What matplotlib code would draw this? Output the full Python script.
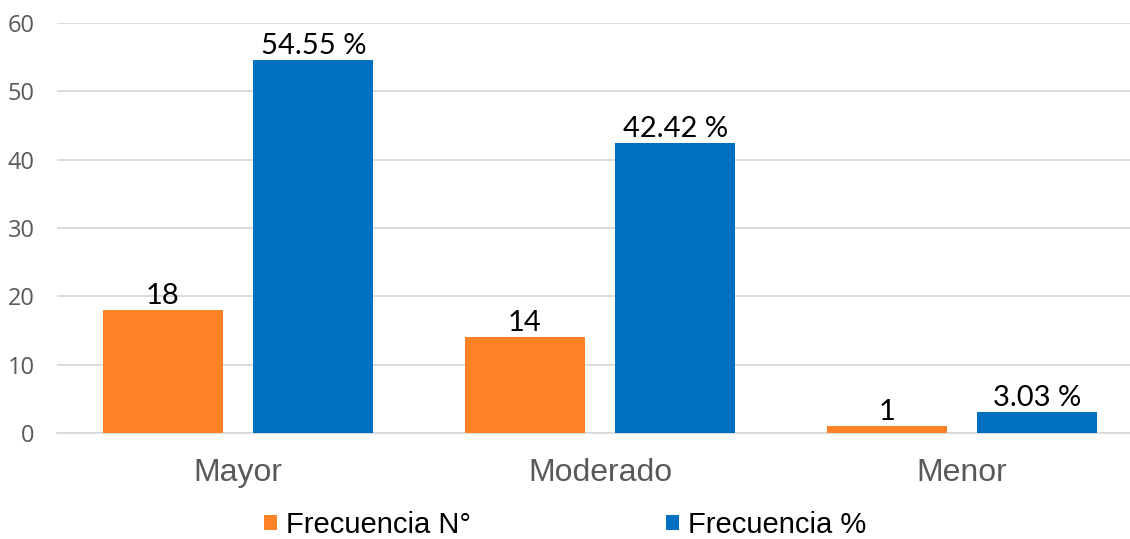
import numpy as np
import matplotlib.pyplot as plt

categories = ['Mayor', 'Moderado', 'Menor']
frecuencia_n = [18, 14, 1]
frecuencia_pct = [54.55, 42.42, 3.03]
pct_labels = ['54.55 %', '42.42 %', '3.03 %']
y_ticks = [0, 10, 20, 30, 40, 50, 60]

orange = '#FF8226'
blue = '#0070C0'
grid_c = '#D9D9D9'
tick_c = '#595959'

fig = plt.figure(figsize=(11.3, 5.39), dpi=100)
ax = fig.add_axes([57 / 1130, 106 / 539, 1086 / 1130, 410 / 539])

x = np.arange(len(categories))
w = 0.332
off = 0.208
b1 = ax.bar(x - off, frecuencia_n, w, color=orange, label='Frecuencia N°', zorder=3)
b2 = ax.bar(x + off, frecuencia_pct, w, color=blue, label='Frecuencia %', zorder=3)

for rect, v in zip(b1, frecuencia_n):
    ax.annotate(str(v), (rect.get_x() + rect.get_width() / 2, rect.get_height()),
                xytext=(0, 1), textcoords='offset points', ha='center', va='bottom',
                fontsize=21, family='Lato', color='black')
for rect, s in zip(b2, pct_labels):
    ax.annotate(s, (rect.get_x() + rect.get_width() / 2, rect.get_height()),
                xytext=(0, 1), textcoords='offset points', ha='center', va='bottom',
                fontsize=21, family='Lato', color='black')

ax.set_xlim(-0.5, 2.5)
ax.set_ylim(0, 60)
ax.set_yticks(y_ticks)
ax.set_xticks(x)
ax.set_xticklabels(categories, family='Liberation Sans', fontsize=23, color=tick_c)
ax.tick_params(axis='x', length=0, pad=18)
ax.tick_params(axis='y', length=0, pad=16, labelsize=17, labelcolor=tick_c)
for lbl in ax.get_yticklabels():
    lbl.set_family('Open Sans')

ax.grid(axis='y', color=grid_c, linewidth=1.3, zorder=0)
for s in ['top', 'right', 'left']:
    ax.spines[s].set_visible(False)
ax.spines['bottom'].set_color(grid_c)
ax.spines['bottom'].set_linewidth(1.3)

fig.legend(handles=[b1, b2], loc='center', bbox_to_anchor=(565 / 1130, 1 - 525 / 539),
           ncol=2, frameon=False, handlelength=0.45, handleheight=0.45,
           handletextpad=0.3, columnspacing=6.7, borderpad=0.1,
           prop={'family': 'Liberation Sans', 'size': 21})

fig.savefig('out.png', dpi=100)
